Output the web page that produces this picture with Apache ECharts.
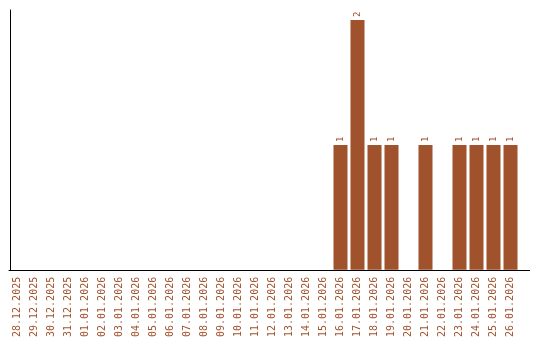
<!DOCTYPE html>
<html><head><meta charset="utf-8">
<script src="https://cdn.jsdelivr.net/npm/echarts@6/dist/echarts.min.js"></script>
<style>html,body{margin:0;padding:0;background:#fff}#c{width:540px;height:340px}</style>
</head><body><div id="c"></div>
<script>
const categories = ["28.12.2025","29.12.2025","30.12.2025","31.12.2025","01.01.2026","02.01.2026","03.01.2026","04.01.2026","05.01.2026","06.01.2026","07.01.2026","08.01.2026","09.01.2026","10.01.2026","11.01.2026","12.01.2026","13.01.2026","14.01.2026","15.01.2026","16.01.2026","17.01.2026","18.01.2026","19.01.2026","20.01.2026","21.01.2026","22.01.2026","23.01.2026","24.01.2026","25.01.2026","26.01.2026"];
const values = [0,0,0,0,0,0,0,0,0,0,0,0,0,0,0,0,0,0,0,1,2,1,1,0,1,0,1,1,1,1];
const color = '#A0522D';
const chart = echarts.init(document.getElementById('c'), null, {renderer:'canvas'});
chart.setOption({
  animation:false,
  grid:{left:9,right:21,top:10,bottom:70,containLabel:false},
  graphic:[{type:'line',shape:{x1:10,y1:270.5,x2:530,y2:270.5},style:{stroke:'#000',lineWidth:1},silent:true,z:10}],
  xAxis:{type:'category',data:categories,
    axisLine:{lineStyle:{color:'#000',width:1}},axisTick:{show:false},
    axisLabel:{rotate:90,interval:0,color:color,fontFamily:'DejaVu Sans Mono',fontSize:10,margin:7}},
  yAxis:{type:'value',min:0,max:2.08,offset:-1,splitLine:{show:false},axisLabel:{show:false},axisTick:{show:false},
    axisLine:{show:true,lineStyle:{color:'#000',width:1}}},
  series:[{type:'bar',data:values.map(v=>v===0?null:v),barWidth:14,itemStyle:{color:color},
    label:{show:true,position:'top',rotate:90,align:'left',verticalAlign:'middle',distance:3,color:color,fontFamily:'DejaVu Sans Mono',fontSize:9}}]
});
</script></body></html>
